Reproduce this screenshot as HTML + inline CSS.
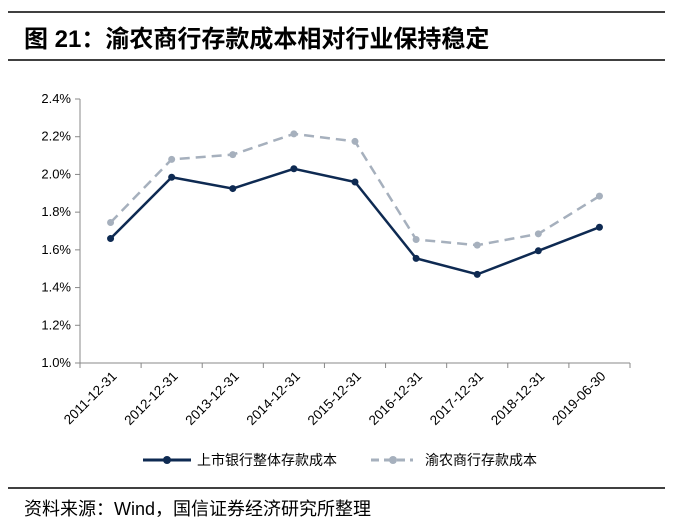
<!DOCTYPE html>
<html><head><meta charset="utf-8"><style>
body{margin:0;background:#fff;width:673px;height:524px;overflow:hidden;font-family:"Liberation Sans","Noto Sans CJK SC",sans-serif}
</style></head><body>
<svg width="673" height="524" xmlns="http://www.w3.org/2000/svg">
<line x1="8" y1="12" x2="665" y2="12" stroke="#000" stroke-width="1.5"/>
<text x="24" y="47" font-size="24" font-weight="bold" font-family="Liberation Sans,Noto Sans CJK SC,sans-serif">图 21：渝农商行存款成本相对行业保持稳定</text>
<line x1="8" y1="60" x2="665" y2="60" stroke="#000" stroke-width="1.5"/>
<g id="plot"></g>
<g>
<g>
<line x1="143" y1="460" x2="191" y2="460" stroke="#0e2a52" stroke-width="3"/>
<circle cx="167" cy="460" r="4" fill="#0e2a52"/>
<text x="197" y="465" font-size="14" fill="#000">上市银行整体存款成本</text></g>
<g>
<line x1="371" y1="460" x2="413" y2="460" stroke="#a6b0bd" stroke-width="3" stroke-dasharray="8,5"/>
<circle cx="393" cy="460" r="4" fill="#a6b0bd"/>
<text x="425" y="465" font-size="14" fill="#000">渝农商行存款成本</text></g>
</g>
<line x1="8" y1="488" x2="665" y2="488" stroke="#000" stroke-width="1.5"/>
<text x="24" y="515" font-size="18">资料来源：Wind，国信证券经济研究所整理</text>
</svg>
<script>
const categories=["2011-12-31","2012-12-31","2013-12-31","2014-12-31","2015-12-31","2016-12-31","2017-12-31","2018-12-31","2019-06-30"];
const listedBanks=[1.66,1.985,1.925,2.03,1.96,1.555,1.47,1.595,1.72];
const cqrcb=[1.745,2.08,2.105,2.215,2.175,1.655,1.625,1.685,1.885];
const yTicks=[1.0,1.2,1.4,1.6,1.8,2.0,2.2,2.4];
const NS="http://www.w3.org/2000/svg";
const g=document.getElementById('plot');
const x0=80,x1=630,yTop=99,yBot=363,yMin=1.0,yMax=2.4;
const bw=(x1-x0)/categories.length;
const xc=i=>x0+bw*(i+0.5);
const ys=v=>yBot-(v-yMin)/(yMax-yMin)*(yBot-yTop);
function mk(t,a){const e=document.createElementNS(NS,t);for(const k in a)e.setAttribute(k,a[k]);g.appendChild(e);return e;}
let e=mk('line',{x1:x0,y1:yTop,x2:x0,y2:yBot,stroke:'#888'});


e=mk('line',{x1:x0,y1:yBot,x2:x1,y2:yBot,stroke:'#888'});


yTicks.forEach(v=>{const y=ys(v);
mk('line',{x1:x0-5,y1:y,x2:x0,y2:y,stroke:'#888'});
const t=mk('text',{x:x0-9,y:y+4,'font-size':13,'text-anchor':'end'});t.textContent=v.toFixed(1)+'%';

});
for(let i=0;i<=categories.length;i++){const x=x0+bw*i;mk('line',{x1:x,y1:yBot,x2:x,y2:yBot+5,stroke:'#888'});}
categories.forEach((c,i)=>{const x=xc(i)+7,y=yBot+14;
const t=mk('text',{x:x,y:y,'font-size':13.5,'text-anchor':'end',transform:`rotate(-45 ${x} ${y})`});t.textContent=c;

});
function series(vals,color,dash,name){
const p=mk('polyline',{points:vals.map((v,i)=>xc(i)+','+ys(v)).join(' '),fill:'none',stroke:color,'stroke-width':2.5,'stroke-dasharray':dash});


vals.forEach((v,i)=>{const c=mk('circle',{cx:xc(i),cy:ys(v),r:3.5,fill:color});

});}
series(cqrcb,'#a6b0bd','10,6','cqrcb');
series(listedBanks,'#0e2a52','none','listed-banks');
</script>
</body></html>
